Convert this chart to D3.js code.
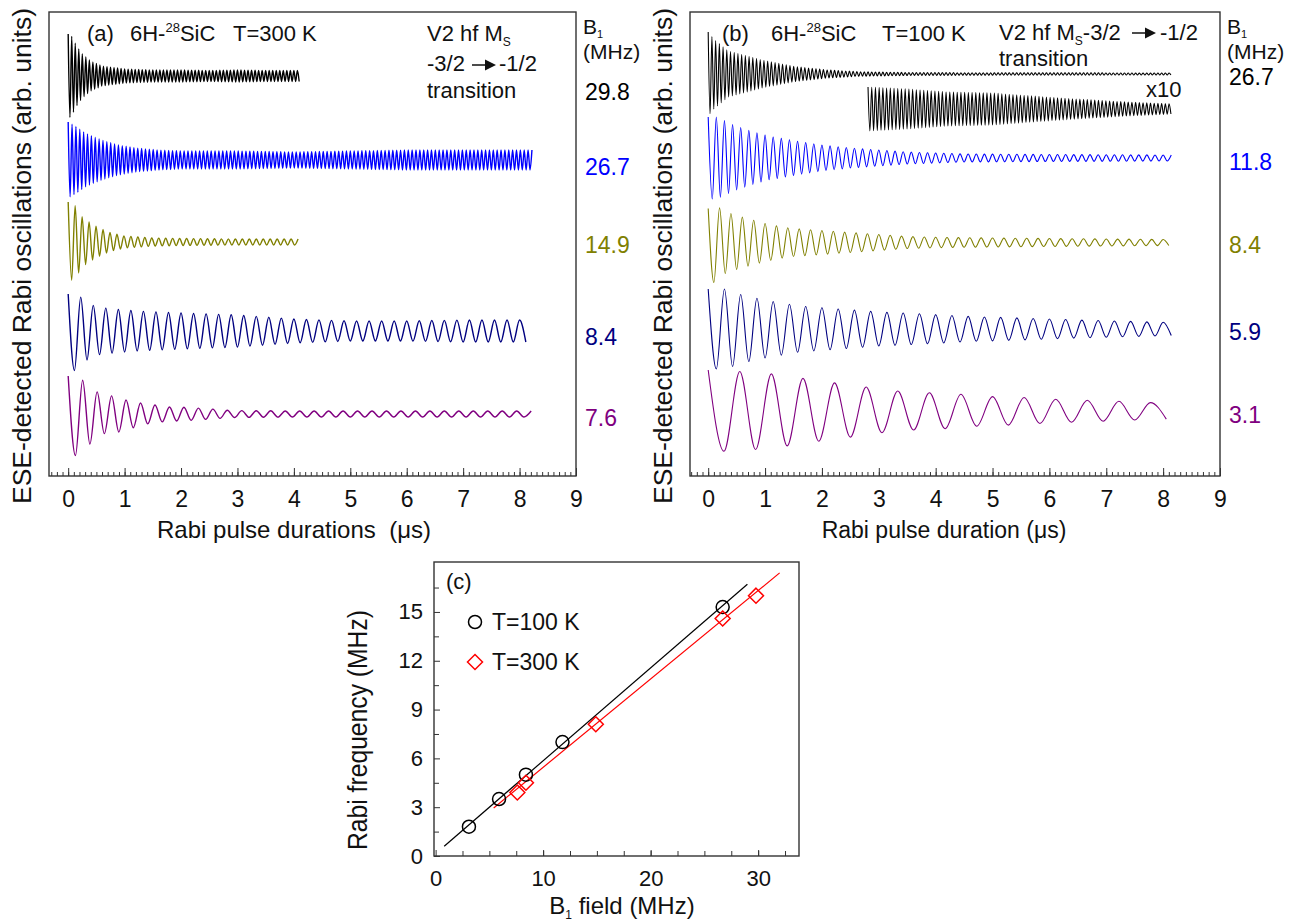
<!DOCTYPE html>
<html>
<head>
<meta charset="utf-8">
<script src="https://cdn.jsdelivr.net/npm/d3@7"></script>
<style>
body { margin: 0; background: #fff; }
svg { font-family: "Liberation Sans", Arial, sans-serif; }
</style>
</head>
<body>
<svg id="chart" width="1303" height="923"></svg>
<script>
// ---- Panel (c): Rabi frequency vs B1 field ----
const b1_100K   = [3.1, 5.9, 8.4, 11.8, 26.7];
const rabi_100K = [1.8, 3.5, 5.0, 7.0, 15.3];
const b1_300K   = [7.6, 8.4, 14.9, 26.7, 29.8];
const rabi_300K = [3.9, 4.5, 8.1, 14.6, 16.0];
// linear fits, drawn between two end points [B1, f]
const fit_100K  = [[0.8, 0.6], [29.0, 16.7]];
const fit_300K  = [[5.4, 2.95], [32.0, 17.4]];

const xTicksRabi = [0, 1, 2, 3, 4, 5, 6, 7, 8, 9];
const xTicksC    = [0, 10, 20, 30];
const yTicksC    = [0, 3, 6, 9, 12, 15];

// ---- Panels (a), (b): Rabi oscillation envelopes [t (us), amplitude (arb. units)] ----
// (a) T = 300 K
const env_a_298 = [[0,4.2],[0.05,4.1],[0.15,3.0],[0.25,2.2],[0.4,1.5],[0.6,1.0],[1.0,0.7],[1.5,0.6],[2.0,0.6],[2.5,0.55],[3.0,0.6],[3.5,0.55],[4.12,0.55]];
const env_a_267 = [[0,3.8],[0.15,3.3],[0.3,2.7],[0.5,2.2],[0.7,1.8],[0.9,1.5],[1.2,1.2],[1.6,1.0],[2.0,0.9],[3.0,0.9],[4.0,0.8],[5.0,0.9],[6.0,1.0],[7.0,1.0],[8.22,1.0]];
const env_a_149 = [[0,4.0],[0.13,3.6],[0.25,2.5],[0.37,2.0],[0.49,1.6],[0.6,1.3],[0.72,1.0],[0.84,0.8],[1.0,0.6],[1.5,0.4],[2.0,0.35],[3.0,0.3],[4.12,0.3]];
const env_a_84  = [[0,3.7],[0.1,4.0],[0.3,3.0],[0.5,2.4],[0.8,2.2],[1.2,2.0],[1.6,1.9],[2.0,1.8],[2.5,1.7],[3.0,1.6],[3.5,1.4],[4.0,1.2],[5.0,1.0],[6.0,1.0],[7.0,1.1],[8.22,1.1]];
const env_a_76  = [[0,3.8],[0.12,4.2],[0.25,3.4],[0.39,3.0],[0.53,2.1],[0.78,1.8],[0.9,1.8],[1.02,1.4],[1.14,1.4],[1.28,1.1],[1.4,1.0],[1.53,0.9],[1.65,0.8],[1.78,0.7],[2.0,0.7],[2.4,0.55],[2.9,0.35],[4.0,0.3],[8.22,0.3]];
// (b) T = 100 K
const env_b_267    = [[0,4.2],[0.1,3.5],[0.35,2.3],[0.95,1.4],[1.53,0.75],[2.1,0.4],[2.7,0.22],[3.5,0.15],[5.0,0.12],[8.16,0.1]];
const env_b_267x10 = [[2.8,2.2],[3.5,2.0],[4.2,1.7],[5.0,1.6],[6.2,1.1],[7.35,0.7],[8.16,0.5]];
const env_b_118 = [[0,4.1],[0.15,4.1],[0.45,3.3],[0.75,2.7],[1.05,2.2],[1.35,1.9],[1.65,1.6],[2.0,1.3],[2.5,1.0],[3.0,0.8],[3.5,0.6],[4.5,0.4],[6.0,0.35],[8.16,0.3]];
const env_b_84  = [[0,3.4],[0.1,4.0],[0.25,3.2],[0.5,2.7],[0.75,2.3],[1.0,1.9],[1.25,1.6],[1.5,1.4],[1.75,1.3],[2.0,1.2],[2.5,1.0],[3.0,0.8],[3.5,0.6],[4.2,0.5],[5.0,0.45],[6.0,0.4],[7.0,0.35],[8.16,0.3]];
const env_b_59  = [[0,4.0],[0.3,4.0],[0.6,3.4],[1.0,2.9],[1.6,2.3],[2.3,2.0],[3.0,1.7],[3.8,1.5],[4.6,1.25],[5.5,1.1],[6.5,0.9],[7.5,0.75],[8.16,0.65]];
const env_b_31  = [[0,4.1],[0.4,4.0],[1.0,3.8],[1.5,3.4],[2.1,2.9],[2.65,2.5],[3.2,2.05],[3.75,1.85],[4.3,1.75],[4.85,1.45],[5.4,1.4],[6.0,1.2],[6.5,1.1],[7.1,1.0],[7.7,0.85],[8.16,0.8]];

// traces: B1 label, Rabi frequency (from panel c), vertical offset, time span
const traces_a = [
    { label: '29.8', freq: rabi_300K[4], offset: 40.0, tEnd: 4.12, env: env_a_298 },
    { label: '26.7', freq: rabi_300K[3], offset: 31.6, tEnd: 8.22, env: env_a_267 },
    { label: '14.9', freq: rabi_300K[2], offset: 23.4, tEnd: 4.12, env: env_a_149 },
    { label: '8.4',  freq: rabi_300K[1], offset: 14.5, tEnd: 8.22, env: env_a_84 },
    { label: '7.6',  freq: rabi_300K[0], offset: 6.2,  tEnd: 8.22, env: env_a_76 }
];
const traces_b = [
    { label: '26.7', freq: rabi_100K[4], offset: 40.2, tEnd: 8.16, env: env_b_267 },
    { label: '',     freq: rabi_100K[4], offset: 36.7, tStart: 2.8, tEnd: 8.16, env: env_b_267x10 },
    { label: '11.8', freq: rabi_100K[3], offset: 31.8, tEnd: 8.16, env: env_b_118 },
    { label: '8.4',  freq: rabi_100K[2], offset: 23.35, tEnd: 8.16, env: env_b_84 },
    { label: '5.9',  freq: rabi_100K[1], offset: 14.7, tEnd: 8.16, env: env_b_59 },
    { label: '3.1',  freq: rabi_100K[0], offset: 6.5,  tEnd: 8.16, env: env_b_31 }
];

// Styles
const COLORS_A = ['#000000', '#0000ff', '#808000', '#000080', '#800080'];
const COLORS_B = ['#000000', '#000000', '#0000ff', '#808000', '#000080', '#800080'];
const LABEL_Y_A = [100, 175, 253, 345, 426];
const LABEL_Y_B = [85, null, 170, 253, 340, 423];
const FRAME = '#333';

const svg = d3.select('#chart');

/**
 * Builds the alternating extrema of a damped oscillation trace
 */
function traceSeries(tr) {
    const amp = d3.scaleLinear()
        .domain(tr.env.map(d => d[0]))
        .range(tr.env.map(d => d[1]))
        .clamp(true);
    const half = 1 / (2 * tr.freq);
    const k0 = Math.ceil((tr.tStart || 0) / half - 1e-9);
    const pts = [];
    for (let k = k0; k * half <= tr.tEnd + 1e-9; k++) {
        const t = k * half;
        pts.push([t, tr.offset + (k % 2 === 0 ? 1 : -1) * amp(t)]);
    }
    return pts;
}

function styleAxisText(sel, size) {
    sel.selectAll('text')
        .attr('font-size', size)
        .attr('font-family', '"Liberation Sans", Arial, sans-serif')
        .attr('fill', '#111');
    sel.selectAll('line').attr('stroke', FRAME);
    sel.select('.domain').remove();
}

/**
 * Draws one Rabi oscillation panel
 */
function drawRabiPanel(p) {
    const x = d3.scaleLinear().domain(p.xDomain).range([p.left, p.right]);
    const y = d3.scaleLinear().domain([0, 46.4]).range([p.bottom, p.top]);
    const g = svg.append('g');

    // traces
    const line = d3.line()
        .x(d => x(d[0]))
        .y(d => y(d[1]))
        .curve(d3.curveMonotoneX);

    p.traces.forEach((tr, i) => {
        g.append('path')
            .datum(traceSeries(tr))
            .attr('fill', 'none')
            .attr('stroke', p.colors[i])
            .attr('stroke-width', p.lineWidth)
            .attr('stroke-linejoin', 'round')
            .attr('d', line);
    });

    // frame
    g.append('rect')
        .attr('x', p.left).attr('y', p.top)
        .attr('width', p.right - p.left).attr('height', p.bottom - p.top)
        .attr('fill', 'none').attr('stroke', FRAME).attr('stroke-width', 1.4);

    // minor and major ticks (inside)
    const minor = d3.range(-3, 91).map(i => i / 10)
        .filter(v => v >= p.xDomain[0] && v <= p.xDomain[1]);
    g.append('g')
        .attr('transform', `translate(0,${p.bottom})`)
        .call(d3.axisBottom(x).tickValues(minor).tickSize(-4).tickFormat(''))
        .call(s => styleAxisText(s, 23));
    g.append('g')
        .attr('transform', `translate(0,${p.bottom})`)
        .call(d3.axisBottom(x).tickValues(xTicksRabi).tickSize(-8).tickPadding(15).tickFormat(d3.format('d')))
        .call(s => styleAxisText(s, 23));

    // axis titles
    g.append('text')
        .attr('x', p.xLabelX).attr('y', 538)
        .attr('text-anchor', 'middle')
        .attr('font-size', p.xLabelSize)
        .attr('fill', '#111')
        .text(p.xLabel);

    g.append('text')
        .attr('transform', `translate(${p.left - 18},256) rotate(-90)`)
        .attr('text-anchor', 'middle')
        .attr('font-size', 26)
        .attr('textLength', 496)
        .attr('lengthAdjust', 'spacingAndGlyphs')
        .attr('fill', '#111')
        .text('ESE-detected Rabi oscillations (arb. units)');

    // B1 labels on the right
    const lx = p.right + 7;
    const b1 = g.append('text').attr('x', lx).attr('y', p.b1Y).attr('font-size', 21).attr('fill', '#111');
    b1.append('tspan').text('B');
    b1.append('tspan').attr('font-size', 11).attr('dy', 4).text('1');
    g.append('text').attr('x', lx).attr('y', p.b1Y + 25).attr('font-size', 21).attr('fill', '#111').text('(MHz)');

    p.traces.forEach((tr, i) => {
        if (!tr.label) return;
        g.append('text')
            .attr('x', lx + 2).attr('y', p.labelY[i])
            .attr('font-size', 23)
            .attr('fill', p.colors[i])
            .text(tr.label);
    });

    return { x, y, g };
}

// ---- Panel (a) ----
const pa = drawRabiPanel({
    left: 49, right: 576, top: 12, bottom: 476,
    xDomain: [-0.34, 9],
    traces: traces_a, colors: COLORS_A, labelY: LABEL_Y_A,
    lineWidth: 1.4,
    xLabel: 'Rabi pulse durations\u00A0\u00A0(\u03BCs)', xLabelX: 294, xLabelSize: 24,
    b1Y: 34
});

// ---- Panel (b) ----
const pb = drawRabiPanel({
    left: 690, right: 1220, top: 12, bottom: 476,
    xDomain: [-0.32, 9],
    traces: traces_b, colors: COLORS_B, labelY: LABEL_Y_B,
    lineWidth: 1.1,
    xLabel: 'Rabi pulse duration (\u03BCs)', xLabelX: 944, xLabelSize: 23,
    b1Y: 34
});

/**
 * Writes "(x)  6H-28SiC  T=... K" title
 */
function panelTitle(g, xs, letter, temp) {
    g.append('text').attr('x', xs[0]).attr('y', 41).attr('font-size', 22).attr('fill', '#111').text(letter);
    const t = g.append('text').attr('x', xs[1]).attr('y', 41).attr('font-size', 22).attr('fill', '#111');
    t.append('tspan').text('6H-');
    t.append('tspan').attr('font-size', 13).attr('dy', -9).text('28');
    t.append('tspan').attr('dy', 9).text('SiC');
    g.append('text').attr('x', xs[2]).attr('y', 41).attr('font-size', 22).attr('fill', '#111').text(temp);
}

function arrow(g, x1, x2, yc) {
    g.append('line').attr('x1', x1).attr('x2', x2 - 8).attr('y1', yc).attr('y2', yc)
        .attr('stroke', '#111').attr('stroke-width', 1.5);
    g.append('path')
        .attr('d', `M${x2 - 11},${yc - 5.5}L${x2},${yc}L${x2 - 11},${yc + 5.5}Z`)
        .attr('fill', '#111');
}

function msText(g, x, y) {
    const t = g.append('text').attr('x', x).attr('y', y).attr('font-size', 22).attr('fill', '#111');
    t.append('tspan').text('V2 hf M');
    t.append('tspan').attr('font-size', 12).attr('dy', 5).text('S');
    return t;
}

panelTitle(pa.g, [87, 130, 233], '(a)', 'T=300 K');
msText(pa.g, 427, 41);
pa.g.append('text').attr('x', 427).attr('y', 71).attr('font-size', 22).attr('fill', '#111').text('-3/2');
arrow(pa.g, 472, 496, 65);
pa.g.append('text').attr('x', 499).attr('y', 71).attr('font-size', 22).attr('fill', '#111').text('-1/2');
pa.g.append('text').attr('x', 427).attr('y', 98).attr('font-size', 22).attr('fill', '#111').text('transition');

panelTitle(pb.g, [722, 771, 882], '(b)', 'T=100 K');
const tb = msText(pb.g, 999, 40);
tb.append('tspan').attr('dy', -5).text('-3/2');
arrow(pb.g, 1132, 1156, 33);
pb.g.append('text').attr('x', 1160).attr('y', 40).attr('font-size', 22).attr('fill', '#111').text('-1/2');
pb.g.append('text').attr('x', 999).attr('y', 66).attr('font-size', 22).attr('fill', '#111').text('transition');
pb.g.append('text').attr('x', 1146).attr('y', 97).attr('font-size', 22).attr('fill', '#111').text('x10');

// ---- Panel (c) ----
const C = { left: 434, right: 799, top: 562, bottom: 856 };
const xC = d3.scaleLinear().domain([-0.15, 33.8]).range([C.left, C.right]);
const yC = d3.scaleLinear().domain([0, 18.07]).range([C.bottom, C.top]);
const gc = svg.append('g');

gc.append('rect')
    .attr('x', C.left).attr('y', C.top)
    .attr('width', C.right - C.left).attr('height', C.bottom - C.top)
    .attr('fill', 'none').attr('stroke', FRAME).attr('stroke-width', 1.4);

gc.append('g')
    .attr('transform', `translate(0,${C.bottom})`)
    .call(d3.axisBottom(xC).tickValues(d3.range(2.5, 33.8, 2.5)).tickSize(-5).tickFormat(''))
    .call(s => styleAxisText(s, 22));
gc.append('g')
    .attr('transform', `translate(0,${C.bottom})`)
    .call(d3.axisBottom(xC).tickValues(xTicksC).tickSize(-6).tickPadding(14).tickFormat(d3.format('d')))
    .call(s => styleAxisText(s, 22));
gc.append('g')
    .attr('transform', `translate(${C.left},0)`)
    .call(d3.axisLeft(yC).tickValues(d3.range(1.5, 18, 3)).tickSize(-5).tickFormat(''))
    .call(s => styleAxisText(s, 22));
gc.append('g')
    .attr('transform', `translate(${C.left},0)`)
    .call(d3.axisLeft(yC).tickValues(yTicksC).tickSize(-6).tickPadding(11).tickFormat(d3.format('d')))
    .call(s => styleAxisText(s, 22));

const fitLine = d3.line().x(d => xC(d[0])).y(d => yC(d[1]));
gc.append('path').datum(fit_100K).attr('d', fitLine).attr('stroke', '#000').attr('stroke-width', 1.2).attr('fill', 'none');
gc.append('path').datum(fit_300K).attr('d', fitLine).attr('stroke', '#ff0000').attr('stroke-width', 1.2).attr('fill', 'none');

const diamond = 'M0,-7.5L7.5,0L0,7.5L-7.5,0Z';

gc.selectAll('circle.t100')
    .data(b1_100K.map((b, i) => [b, rabi_100K[i]]))
    .join('circle')
    .attr('class', 't100')
    .attr('cx', d => xC(d[0])).attr('cy', d => yC(d[1]))
    .attr('r', 6.5)
    .attr('fill', 'none').attr('stroke', '#000').attr('stroke-width', 1.5);

gc.selectAll('path.t300')
    .data(b1_300K.map((b, i) => [b, rabi_300K[i]]))
    .join('path')
    .attr('class', 't300')
    .attr('transform', d => `translate(${xC(d[0])},${yC(d[1])})`)
    .attr('d', diamond)
    .attr('fill', 'none').attr('stroke', '#ff0000').attr('stroke-width', 1.5);

// legend
gc.append('circle').attr('cx', 475).attr('cy', 622).attr('r', 6.5)
    .attr('fill', 'none').attr('stroke', '#000').attr('stroke-width', 1.5);
gc.append('text').attr('x', 492).attr('y', 630).attr('font-size', 23).attr('fill', '#111').text('T=100 K');
gc.append('path').attr('transform', 'translate(475,662)').attr('d', diamond)
    .attr('fill', 'none').attr('stroke', '#ff0000').attr('stroke-width', 1.5);
gc.append('text').attr('x', 492).attr('y', 670).attr('font-size', 23).attr('fill', '#111').text('T=300 K');
gc.append('text').attr('x', 446).attr('y', 589).attr('font-size', 22).attr('fill', '#111').text('(c)');

// axis titles
gc.append('text')
    .attr('transform', `translate(367,730) rotate(-90)`)
    .attr('text-anchor', 'middle')
    .attr('font-size', 27)
    .attr('textLength', 240)
    .attr('lengthAdjust', 'spacingAndGlyphs')
    .attr('fill', '#111')
    .text('Rabi frequency (MHz)');

const xt = gc.append('text').attr('x', 622).attr('y', 914).attr('text-anchor', 'middle')
    .attr('font-size', 24).attr('fill', '#111');
xt.append('tspan').text('B');
xt.append('tspan').attr('font-size', 12).attr('dy', 5).text('1');
xt.append('tspan').attr('dy', -5).text(' field (MHz)');
</script>
</body>
</html>
